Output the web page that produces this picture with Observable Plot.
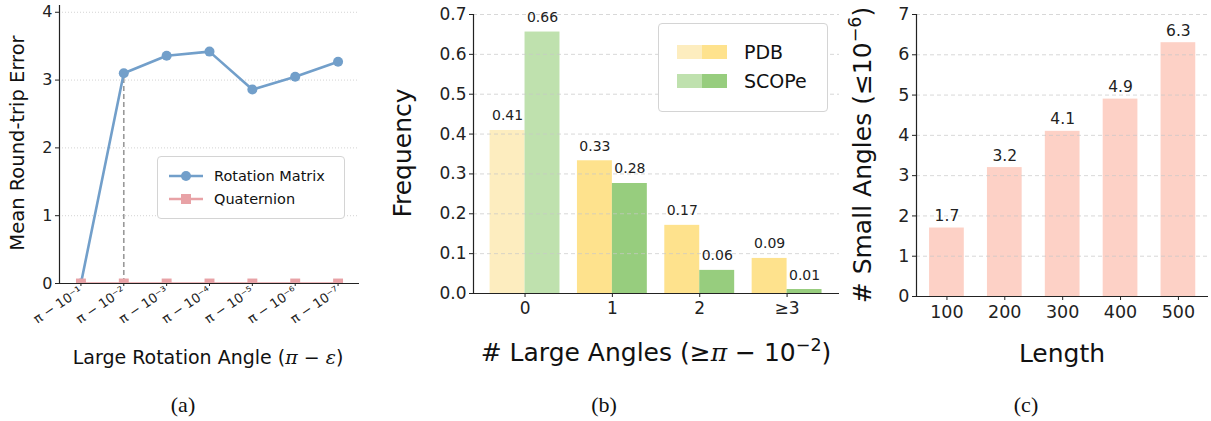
<!DOCTYPE html>
<html><head><meta charset="utf-8">
<script src="https://cdn.jsdelivr.net/npm/d3@7"></script>
<script src="https://cdn.jsdelivr.net/npm/@observablehq/plot@0.6"></script>
<style>
body{margin:0;background:#fff;}
#wrap{position:relative;width:1211px;height:421px;overflow:hidden;font-family:"DejaVu Sans";color:#111}
.p{position:absolute;top:0}
.t{position:absolute;white-space:nowrap;transform:translate(-50%,-50%);line-height:1}
.ty{transform:translate(-50%,-50%) rotate(-90deg);}
.cap{font-family:"Liberation Serif","DejaVu Serif";font-size:22px}
.leg{position:absolute;background:#fff;border:1px solid #d4d4d4;border-radius:4px;box-sizing:border-box}
sup{font-size:0.7em;line-height:0;position:relative;top:-0.05em}
</style></head><body><div id="wrap"></div>
<script>
// ---- data ----
const angleLabels = ["π − 10⁻¹","π − 10⁻²","π − 10⁻³","π − 10⁻⁴","π − 10⁻⁵","π − 10⁻⁶","π − 10⁻⁷"];
const rotationMatrix = [0.0, 3.10, 3.36, 3.42, 2.86, 3.05, 3.27];
const quaternion = [0, 0, 0, 0, 0, 0, 0];
const largeCats = ["0", "1", "2", "≥3"];
const pdbFreq = [0.409, 0.333, 0.171, 0.088];
const scopeFreq = [0.656, 0.276, 0.058, 0.010];
const lengths = [100, 200, 300, 400, 500];
const smallAngles = [1.7, 3.2, 4.1, 4.9, 6.3];

// ---- styles ----
const pdbColors = ["#fdedbf", "#fee28d", "#fee28d", "#fee28d"];
const scopeColors = ["#bfe1ae", "#97cd7e", "#97cd7e", "#97cd7e"];
const blue = "#729fca", pink = "#e8a2a6", salmon = "#fdd1c6";
const axisColor = "#222";
const baseStyle = {fontFamily: "DejaVu Sans", color: axisColor, background: "transparent", overflow: "visible"};

const wrap = document.getElementById("wrap");
function place(el, left, xSize, ySize) {
  el.classList.add("p"); el.style.left = left + "px";
  el.querySelectorAll('g[aria-label="x-axis tick label"]').forEach(g => { g.setAttribute("font-size", xSize); g.style.fontSize = xSize + "px"; });
  el.querySelectorAll('g[aria-label="y-axis tick label"]').forEach(g => { g.setAttribute("font-size", ySize); g.style.fontSize = ySize + "px"; });
  wrap.appendChild(el);
}
function text(html, x, y, size, cls = "") {
  const d = document.createElement("div");
  d.className = "t " + cls; d.innerHTML = html;
  d.style.left = x + "px"; d.style.top = y + "px"; d.style.fontSize = size + "px";
  wrap.appendChild(d);
}

// ---- panel (a) ----
const rowsA = angleLabels.map((label, i) => ({i, label, rm: rotationMatrix[i], q: quaternion[i]}));
place(Plot.plot({
  width: 370, height: 340, marginLeft: 59, marginRight: 11, marginTop: 5, marginBottom: 57,
  style: {...baseStyle, fontSize: "15px"},
  x: {domain: [-0.5, 6.5]}, y: {domain: [0, 4.1]},
  marks: [
    Plot.gridY([1, 2, 3, 4], {stroke: "#c8c8c8", strokeOpacity: 0.8, strokeDasharray: "1,2"}),
    Plot.ruleX(rowsA.filter(d => d.i === 1), {x: "i", y1: 0, y2: "rm", stroke: "#999", strokeWidth: 1.6, strokeDasharray: "5,3"}),
    Plot.line(rowsA, {x: "i", y: "rm", stroke: blue, strokeWidth: 2.6, clip: true}),
    Plot.dot(rowsA, {x: "i", y: "rm", r: 5, fill: blue, clip: true}),
    Plot.line(rowsA, {x: "i", y: "q", stroke: pink, strokeWidth: 2.6, clip: true}),
    Plot.dot(rowsA, {x: "i", y: "q", symbol: "square", r: 5.6, fill: pink, clip: true}),
    Plot.axisY({ticks: [0, 1, 2, 3, 4], tickFormat: d3.format("d"), tickSize: 4, tickPadding: 3, label: null}),
    Plot.axisX({ticks: rowsA.map(d => d.i), tickFormat: i => angleLabels[i], tickRotate: -34, tickSize: 3, tickPadding: 3, label: null}),
    Plot.ruleX([-0.5], {stroke: axisColor, strokeWidth: 1.2}),
    Plot.ruleY([0], {stroke: axisColor, strokeWidth: 1.2})
  ]
}), 0, 13, 16);

// ---- panel (b) ----
const rowsB = largeCats.flatMap((c, i) => [
  {i, c, series: "PDB", v: pdbFreq[i], side: -1, color: pdbColors[i]},
  {i, c, series: "SCOPe", v: scopeFreq[i], side: 1, color: scopeColors[i]}
]);
place(Plot.plot({
  width: 450, height: 340, marginLeft: 73, marginRight: 11, marginTop: 14, marginBottom: 47,
  style: {...baseStyle, fontSize: "17px"},
  x: {domain: [-0.59, 3.6]}, y: {domain: [0, 0.7]},
  marks: [
    Plot.rectY(rowsB, {x1: d => d.side < 0 ? d.i - 0.4 : d.i, x2: d => d.side < 0 ? d.i : d.i + 0.4, y: "v", fill: "color"}),
    Plot.gridY(d3.range(1, 8).map(k => k / 10), {stroke: "#c8c8c8", strokeOpacity: 0.7, strokeDasharray: "4,3"}),
    Plot.text(rowsB, {x: d => d.i + d.side * 0.2, y: "v", text: d => d.v.toFixed(2), lineAnchor: "bottom", dy: -10, fontSize: 14, fill: axisColor}),
    Plot.axisY({ticks: d3.range(0, 8).map(k => k / 10), tickFormat: d3.format(".1f"), tickSize: 4, tickPadding: 3, label: null}),
    Plot.axisX({ticks: [0, 1, 2, 3], tickFormat: i => largeCats[i], tickSize: 4, tickPadding: 4, label: null}),
    Plot.ruleX([-0.59], {stroke: axisColor, strokeWidth: 1.2}),
    Plot.ruleY([0], {stroke: axisColor, strokeWidth: 1.2})
  ]
}), 400, 17, 17);

// ---- panel (c) ----
const rowsC = lengths.map((L, i) => ({L, v: smallAngles[i]}));
place(Plot.plot({
  width: 341, height: 340, marginLeft: 46, marginRight: 3, marginTop: 14, marginBottom: 44,
  style: {...baseStyle, fontSize: "17px"},
  x: {domain: [47.4, 552]}, y: {domain: [0, 7]},
  marks: [
    Plot.rectY(rowsC, {x1: d => d.L - 30, x2: d => d.L + 30, y: "v", fill: salmon}),
    Plot.gridY(d3.range(1, 8), {stroke: "#c8c8c8", strokeOpacity: 0.7, strokeDasharray: "4,3"}),
    Plot.text(rowsC, {x: "L", y: "v", text: d => d.v.toFixed(1), lineAnchor: "bottom", dy: -7, fontSize: 15.5, fill: axisColor}),
    Plot.axisY({ticks: d3.range(0, 8), tickFormat: d3.format("d"), tickSize: 4, tickPadding: 3, label: null}),
    Plot.axisX({ticks: lengths, tickFormat: d3.format("d"), tickSize: 4, tickPadding: 5, label: null}),
    Plot.ruleX([47.4], {stroke: axisColor, strokeWidth: 1.2}),
    Plot.ruleY([0], {stroke: axisColor, strokeWidth: 1.2})
  ]
}), 870, 17.5, 17.5);

// ---- axis titles ----
text("Large Rotation Angle (<i style='font-family:DejaVu Serif'>π</i> − <i style='font-family:DejaVu Serif'>ε</i>)", 208, 357, 19);
text("Mean Round-trip Error", 18, 143, 19.5, "ty");
text("# Large Angles (≥<i style='font-family:DejaVu Serif'>π</i> − 10<sup>−2</sup>)", 656, 352, 25);
text("Frequency", 402, 153, 25, "ty");
text("Length", 1062, 353, 25);
text("# Small Angles (≤10<sup>−6</sup>)", 862, 155, 25, "ty");
text("(a)", 183, 405, 22, "cap");
text("(b)", 604, 405, 22, "cap");
text("(c)", 1026, 405, 22, "cap");

// ---- legends ----
const legA = document.createElement("div");
legA.className = "leg";
Object.assign(legA.style, {left: "157px", top: "156px", width: "188px", height: "63px"});
legA.innerHTML = `<svg width="188" height="63" style="position:absolute;left:0;top:0;overflow:visible">
  <line x1="11" x2="45" y1="19" y2="19" stroke="${blue}" stroke-width="2.6"/>
  <circle cx="28" cy="19" r="5" fill="${blue}"/>
  <line x1="11" x2="45" y1="42" y2="42" stroke="${pink}" stroke-width="2.6"/>
  <rect x="23" y="37" width="10" height="10" fill="${pink}"/>
  <text x="56" y="19" dy="0.35em" font-size="14.5" fill="#111" font-family="DejaVu Sans">Rotation Matrix</text>
  <text x="56" y="42" dy="0.35em" font-size="14.5" fill="#111" font-family="DejaVu Sans">Quaternion</text>
</svg>`;
wrap.appendChild(legA);

const legB = document.createElement("div");
legB.className = "leg";
Object.assign(legB.style, {left: "658px", top: "23px", width: "170px", height: "89px"});
legB.innerHTML = `<svg width="170" height="89" style="position:absolute;left:0;top:0;overflow:visible">
  <rect x="18" y="21" width="25" height="14" fill="${pdbColors[0]}"/>
  <rect x="43" y="21" width="25" height="14" fill="${pdbColors[1]}"/>
  <rect x="18" y="50" width="25" height="14" fill="${scopeColors[0]}"/>
  <rect x="43" y="50" width="25" height="14" fill="${scopeColors[1]}"/>
  <text x="85" y="28" dy="0.35em" font-size="19" fill="#111" font-family="DejaVu Sans">PDB</text>
  <text x="85" y="57" dy="0.35em" font-size="19" fill="#111" font-family="DejaVu Sans">SCOPe</text>
</svg>`;
wrap.appendChild(legB);
</script></body></html>
